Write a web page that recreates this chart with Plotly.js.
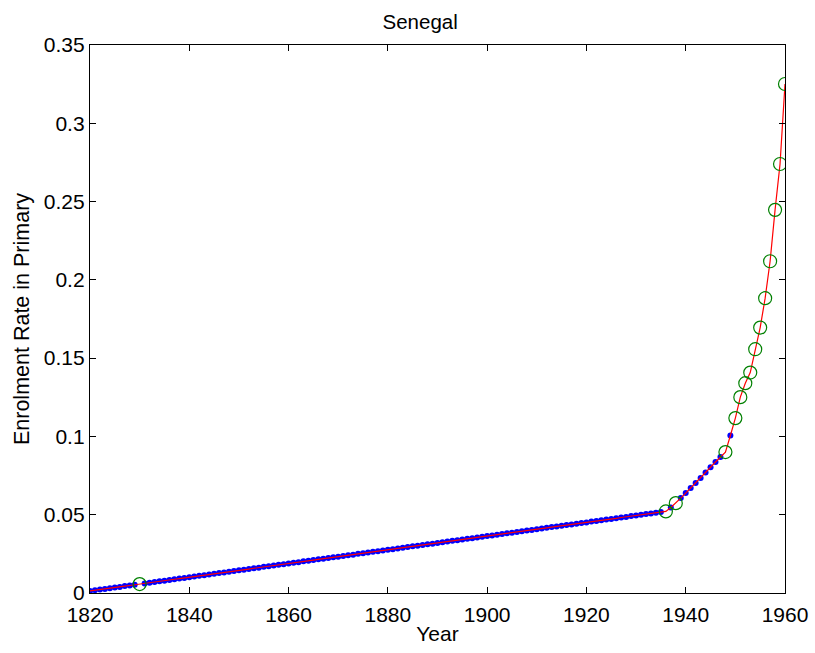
<!DOCTYPE html>
<html>
<head>
<meta charset="utf-8">
<script src="https://cdn.plot.ly/plotly-3.0.1.min.js"></script>
<style>
  html, body { margin: 0; padding: 0; background: #fff; }
  #chart { width: 815px; height: 653px; }
</style>
</head>
<body>
<div id="chart"></div>
<script>
// Years 1820..1960 and the enrolment rate for each year
const years = [
  1820,1821,1822,1823,1824,1825,1826,1827,1828,1829,
  1830,1831,1832,1833,1834,1835,1836,1837,1838,1839,
  1840,1841,1842,1843,1844,1845,1846,1847,1848,1849,
  1850,1851,1852,1853,1854,1855,1856,1857,1858,1859,
  1860,1861,1862,1863,1864,1865,1866,1867,1868,1869,
  1870,1871,1872,1873,1874,1875,1876,1877,1878,1879,
  1880,1881,1882,1883,1884,1885,1886,1887,1888,1889,
  1890,1891,1892,1893,1894,1895,1896,1897,1898,1899,
  1900,1901,1902,1903,1904,1905,1906,1907,1908,1909,
  1910,1911,1912,1913,1914,1915,1916,1917,1918,1919,
  1920,1921,1922,1923,1924,1925,1926,1927,1928,1929,
  1930,1931,1932,1933,1934,1935,1936,1937,1938,1939,
  1940,1941,1942,1943,1944,1945,1946,1947,1948,1949,
  1950,1951,1952,1953,1954,1955,1956,1957,1958,1959,
  1960
];
const rates = [
  0.0013,0.0018,0.0022,0.0026,0.0031,0.0035,0.0039,0.0044,0.0048,0.0053,
  0.0057,0.0061,0.0066,0.0070,0.0075,0.0079,0.0083,0.0088,0.0092,0.0096,
  0.0101,0.0105,0.0110,0.0114,0.0118,0.0123,0.0127,0.0131,0.0136,0.0140,
  0.0145,0.0149,0.0153,0.0158,0.0162,0.0167,0.0171,0.0175,0.0180,0.0184,
  0.0188,0.0193,0.0197,0.0202,0.0206,0.0210,0.0215,0.0219,0.0223,0.0228,
  0.0232,0.0237,0.0241,0.0245,0.0250,0.0254,0.0258,0.0263,0.0267,0.0272,
  0.0276,0.0280,0.0285,0.0289,0.0294,0.0298,0.0302,0.0307,0.0311,0.0315,
  0.0320,0.0324,0.0329,0.0333,0.0337,0.0342,0.0346,0.0350,0.0355,0.0359,
  0.0364,0.0368,0.0372,0.0377,0.0381,0.0385,0.0390,0.0394,0.0399,0.0403,
  0.0407,0.0412,0.0416,0.0421,0.0425,0.0429,0.0434,0.0438,0.0442,0.0447,
  0.0451,0.0456,0.0460,0.0464,0.0469,0.0473,0.0477,0.0482,0.0486,0.0491,
  0.0495,0.0499,0.0504,0.0508,0.0512,0.0517,0.0521,0.0546,0.0574,0.0606,
  0.0638,0.0670,0.0702,0.0735,0.0769,0.0803,0.0837,0.0869,0.0900,0.1006,
  0.1117,0.1251,0.1340,0.1408,0.1557,0.1695,0.1883,0.2119,0.2447,0.2740,
  0.3251
];
// Years with an observed value (green circles)
const observedYears = [1830,1936,1938,1948,1950,1951,1952,1953,1954,1955,1956,1957,1958,1959,1960];

const xTickVals = [1820,1840,1860,1880,1900,1920,1940,1960];
const xTickText = ['1820','1840','1860','1880','1900','1920','1940','1960'];
const yTickVals = [0,0.05,0.1,0.15,0.2,0.25,0.3,0.35];
const yTickText = ['0','0.05','0.1','0.15','0.2','0.25','0.3','0.35'];

const obsSet = new Set(observedYears);
const interpX = [], interpY = [], obsX = [], obsY = [];
years.forEach((yr, i) => {
  if (obsSet.has(yr)) { obsX.push(yr); obsY.push(rates[i]); }
  else { interpX.push(yr); interpY.push(rates[i]); }
});

const FONT = 'Liberation Sans, Arial, Helvetica, sans-serif';

const traces = [
  { x: interpX, y: interpY, type: 'scatter', mode: 'markers',
    marker: { color: 'rgb(0,0,255)', size: 6, line: { width: 0 } }, hoverinfo: 'skip' },
  { x: years, y: rates, type: 'scatter', mode: 'lines',
    line: { color: 'rgb(255,0,0)', width: 1.2 }, hoverinfo: 'skip' },
  { x: obsX, y: obsY, type: 'scatter', mode: 'markers',
    marker: { symbol: 'circle-open', color: 'rgb(0,128,0)', size: 13, line: { width: 1.2, color: 'rgb(0,128,0)' } },
    hoverinfo: 'skip' }
];

const axisCommon = {
  showline: true, linecolor: '#000', linewidth: 1.2, mirror: 'ticks',
  ticks: 'inside', ticklen: 6, tickwidth: 1, tickcolor: '#000',
  showgrid: false, zeroline: false,
  tickfont: { family: FONT, size: 21, color: '#000' }
};

const layout = {
  width: 815, height: 653,
  margin: { l: 90, r: 30, t: 45, b: 60 },
  paper_bgcolor: '#fff', plot_bgcolor: '#fff',
  showlegend: false,
  title: { text: 'Senegal', font: { family: FONT, size: 20.5, color: '#000' },
           x: 0.475, xref: 'paper', xanchor: 'center', y: 0.966, yref: 'container', yanchor: 'middle' },
  xaxis: Object.assign({}, axisCommon, {
    range: [1820, 1960], tickvals: xTickVals, ticktext: xTickText, ticklabelstandoff: 3,
    title: { text: 'Year', font: { family: FONT, size: 21, color: '#000' }, standoff: 0 }
  }),
  yaxis: Object.assign({}, axisCommon, {
    range: [0, 0.35], tickvals: yTickVals, ticktext: yTickText, ticklabelstandoff: 0,
    title: { text: 'Enrolment Rate in Primary', font: { family: FONT, size: 21.5, color: '#000' }, standoff: 8 }
  })
};

Plotly.newPlot('chart', traces, layout, { displayModeBar: false, staticPlot: true });
</script>
</body>
</html>
